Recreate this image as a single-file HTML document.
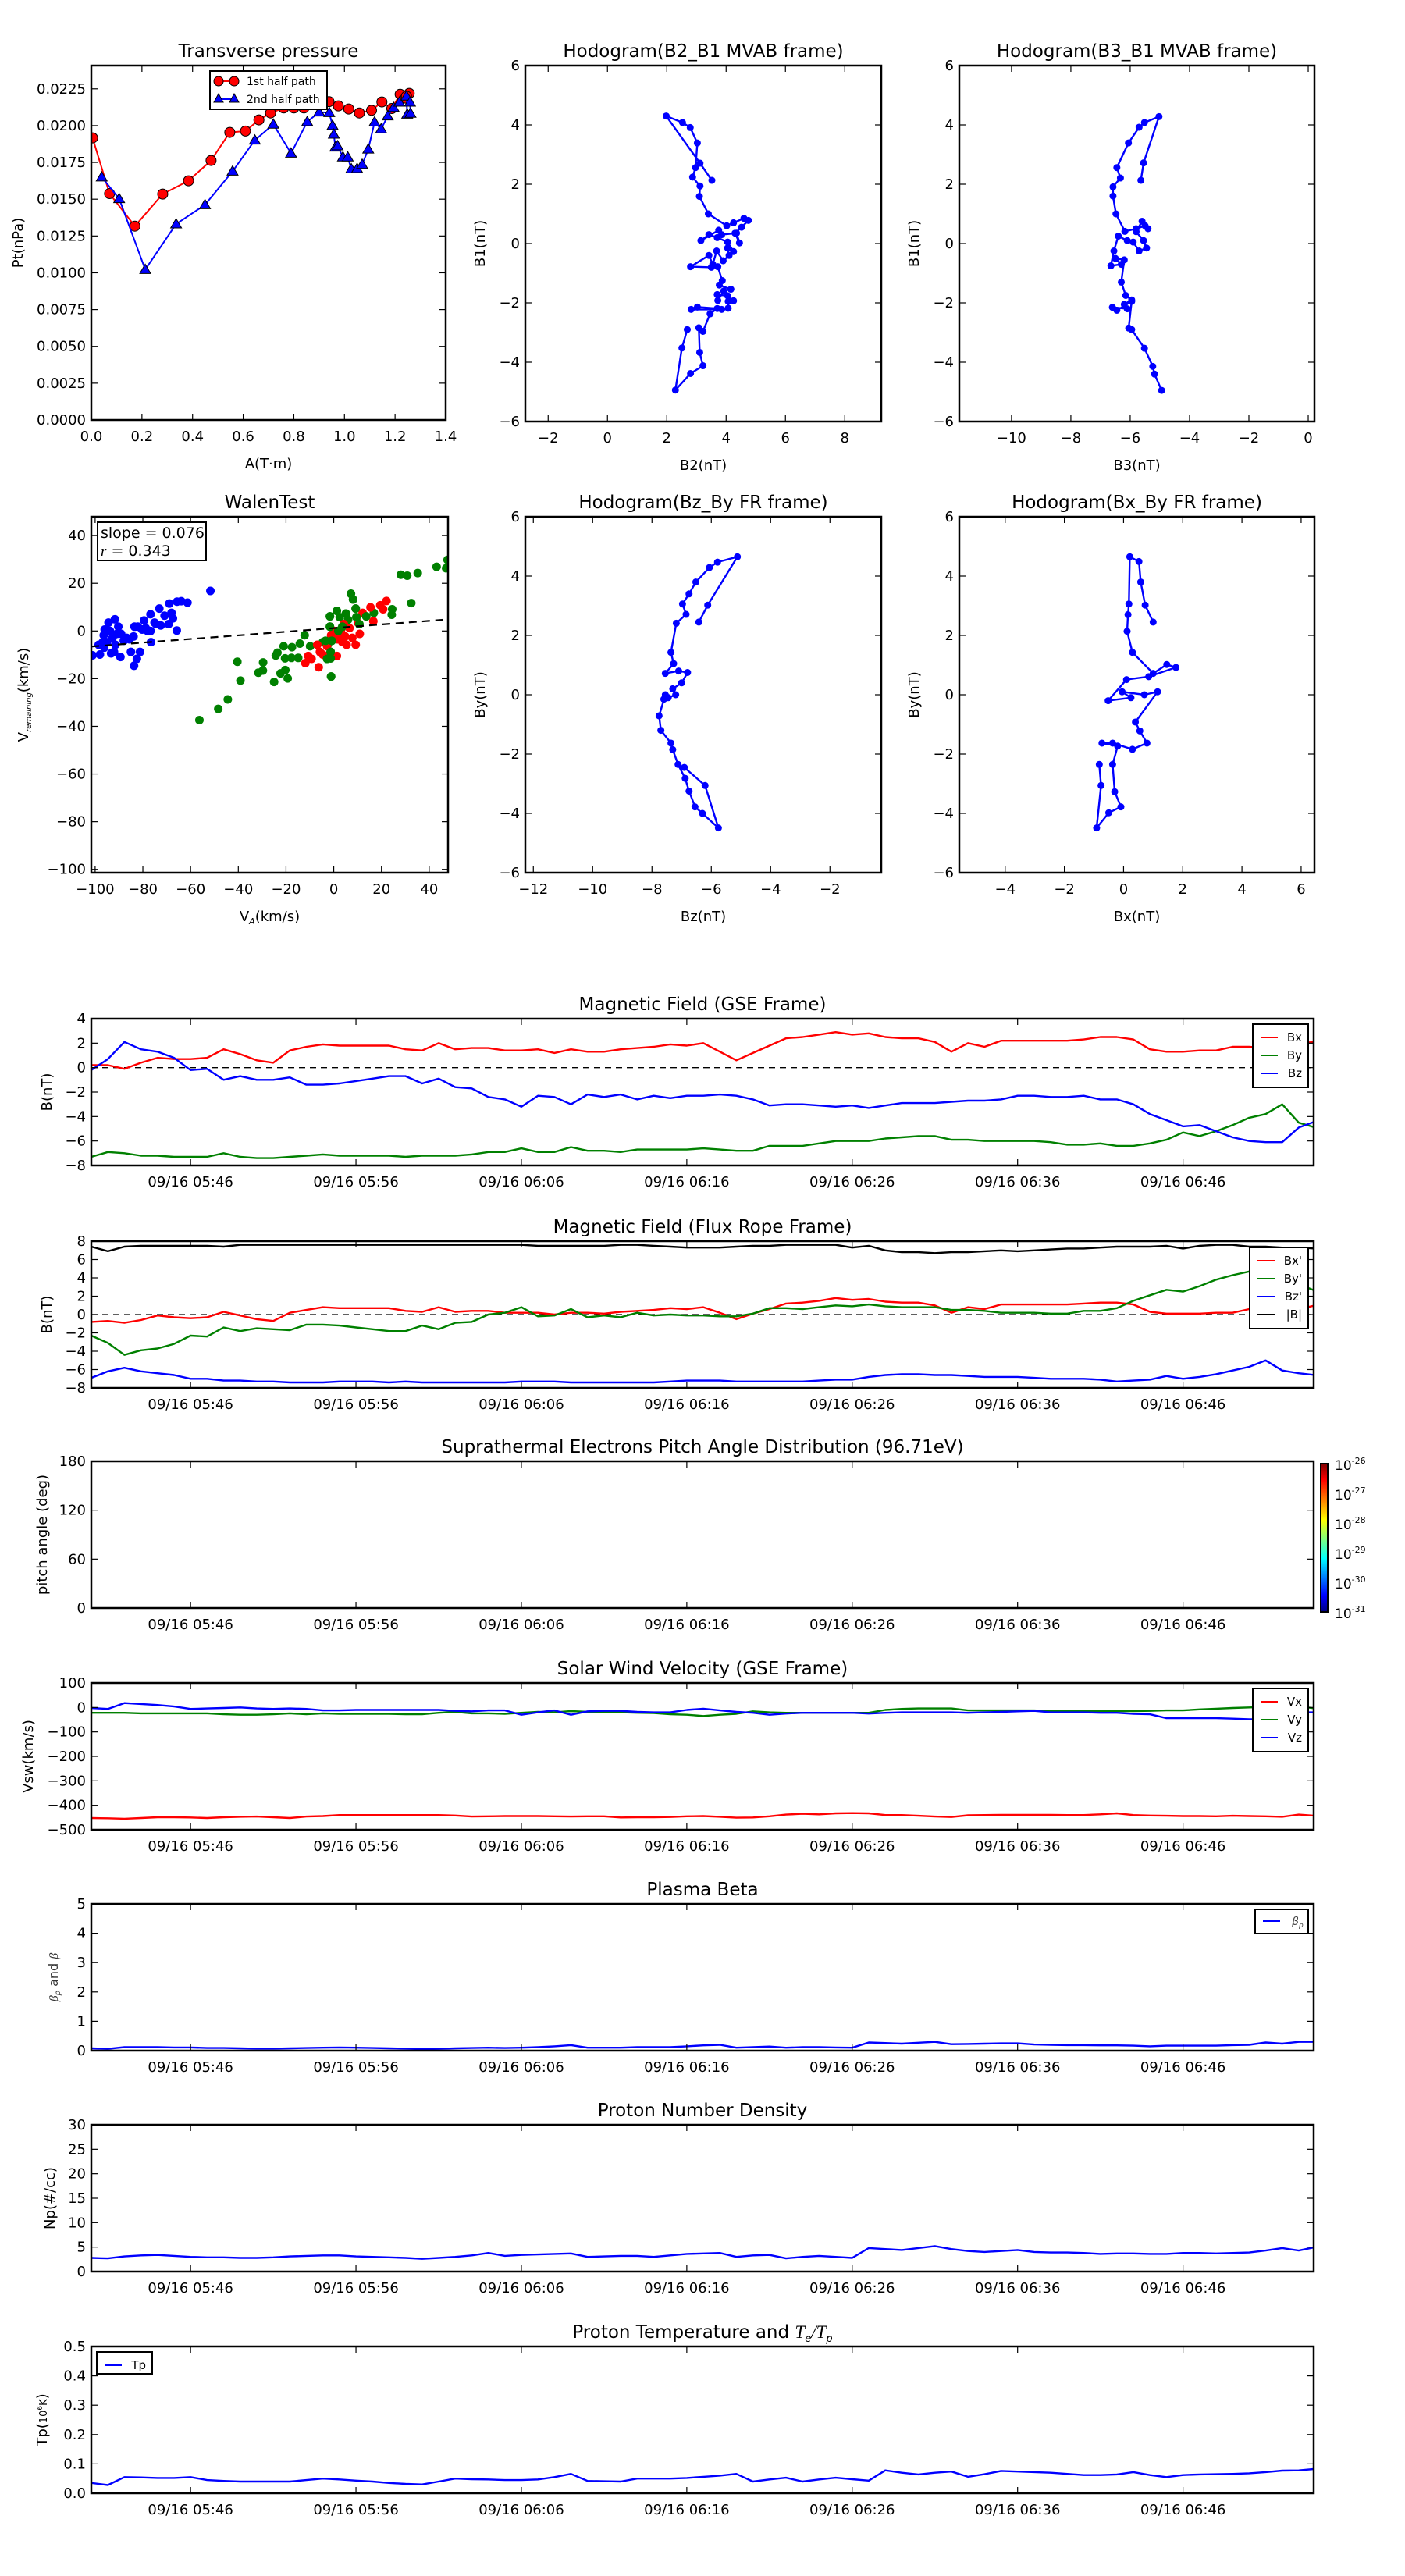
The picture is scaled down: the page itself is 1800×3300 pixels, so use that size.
<!DOCTYPE html>
<html><head><meta charset="utf-8"><style>
html,body{margin:0;padding:0;background:#fff;}
svg{display:block;font-family:"DejaVu Sans","Liberation Sans",sans-serif;}
</style></head><body>
<svg id="fig" xmlns="http://www.w3.org/2000/svg" width="1800" height="3300" viewBox="0 0 1800 3300">
<defs><linearGradient id="jet" x1="0" y1="1" x2="0" y2="0">
<stop offset="0" stop-color="#00007f"/><stop offset="0.11" stop-color="#0000ff"/><stop offset="0.36" stop-color="#00ffff"/><stop offset="0.62" stop-color="#ffff00"/><stop offset="0.89" stop-color="#ff0000"/><stop offset="1" stop-color="#7f0000"/></linearGradient></defs>
</svg>
<script>
// ---------- data ----------
const ptA1=[0.005,0.072,0.172,0.282,0.384,0.473,0.547,0.609,0.662,0.708,0.76,0.80,0.84,0.90,0.939,0.976,1.017,1.059,1.107,1.148,1.187,1.220,1.241,1.256,1.245];
const ptP1=[0.01917,0.01538,0.01317,0.01535,0.01625,0.01763,0.01954,0.01963,0.02039,0.02086,0.0212,0.0212,0.0212,0.0215,0.02163,0.02134,0.02113,0.02086,0.02104,0.02161,0.02116,0.02213,0.02187,0.02219,0.0220];
const ptA2=[0.041,0.110,0.213,0.335,0.449,0.558,0.646,0.719,0.789,0.853,0.900,0.940,0.953,0.958,0.964,0.973,0.994,1.013,1.027,1.050,1.070,1.094,1.119,1.145,1.171,1.194,1.217,1.245,1.248,1.261,1.259];
const ptP2=[0.01650,0.01503,0.01022,0.01331,0.01462,0.01690,0.01901,0.02009,0.01812,0.02026,0.02092,0.02088,0.02000,0.01941,0.01853,0.01862,0.01786,0.01786,0.01706,0.01708,0.01736,0.01840,0.02024,0.01977,0.02065,0.02123,0.02159,0.0220,0.02077,0.02083,0.02159];

const h1B2=[2.69,2.51,2.29,2.80,3.22,3.11,3.08,3.22,3.46,3.70,3.03,2.82,3.85,4.07,4.07,4.25,4.05,3.70,3.72,3.92,4.16,3.77,3.87,3.72,3.50,2.80,3.42,3.55,3.68,3.90,4.10,4.05,4.25,4.05,3.70,3.42,3.15,3.75,3.85,4.35,4.45,4.30,4.52,4.75,4.60,4.25,4.02,3.40,3.10,3.12,2.87,2.97,3.03,2.79,2.53,1.98,3.12,3.52];
const h1B1=[-2.90,-3.52,-4.94,-4.38,-4.12,-3.67,-2.84,-2.96,-2.37,-2.19,-2.14,-2.22,-2.22,-2.18,-1.95,-1.93,-1.76,-1.72,-1.92,-1.60,-1.54,-1.40,-1.25,-0.78,-0.80,-0.78,-0.40,-0.70,-0.25,-0.58,-0.40,-0.15,-0.27,0.05,0.20,0.30,0.10,0.45,0.30,0.35,0.02,0.35,0.55,0.78,0.85,0.70,0.60,1.00,1.59,1.94,2.24,2.56,3.39,3.91,4.08,4.30,2.71,2.13];
const h2B3=[-5.64,-5.55,-5.03,-5.52,-5.70,-6.06,-6.45,-6.33,-6.58,-6.58,-6.48,-6.18,-5.80,-5.50,-5.40,-5.60,-5.80,-5.55,-5.45,-5.70,-5.90,-6.10,-6.40,-6.55,-6.65,-6.30,-6.50,-6.20,-6.30,-6.15,-5.95,-6.20,-6.10,-6.60,-6.45,-5.95,-6.05,-5.95,-5.52,-5.24,-5.18,-4.94];
const h2B1=[2.13,2.72,4.28,4.08,3.92,3.39,2.56,2.21,1.91,1.60,1.00,0.41,0.50,0.60,0.50,0.75,0.40,0.10,-0.15,-0.25,0.05,0.10,0.25,-0.25,-0.75,-0.70,-0.50,-0.55,-1.30,-1.75,-1.90,-2.05,-2.20,-2.15,-2.25,-1.95,-2.85,-2.90,-3.53,-4.14,-4.40,-4.95];
const h3Bz=[-6.42,-6.12,-5.12,-5.79,-6.06,-6.52,-6.75,-6.97,-6.85,-7.18,-7.36,-7.27,-7.55,-7.10,-6.80,-7.00,-7.30,-7.20,-7.45,-7.60,-7.55,-7.76,-7.70,-7.36,-7.30,-7.12,-6.88,-6.75,-6.55,-6.30,-5.76,-6.21,-6.91];
const h3By=[2.45,3.02,4.65,4.47,4.29,3.80,3.40,3.06,2.71,2.41,1.43,1.05,0.72,0.80,0.75,0.40,0.20,0.00,-0.10,-0.15,0.00,-0.71,-1.20,-1.63,-1.85,-2.35,-2.82,-3.25,-3.78,-4.00,-4.49,-3.06,-2.45];
const h4Bx=[1.0,0.73,0.58,0.52,0.21,0.18,0.15,0.12,0.30,1.0,1.46,1.77,0.85,0.10,-0.52,0.25,-0.05,0.70,1.15,0.40,0.55,0.79,0.30,-0.37,-0.73,-0.20,-0.37,-0.30,-0.09,-0.50,-0.91,-0.76,-0.82];
const h4By=[2.45,3.02,3.80,4.49,4.65,3.06,2.70,2.14,1.43,0.72,1.02,0.92,0.61,0.51,-0.20,-0.10,0.10,0.00,0.10,-0.92,-1.22,-1.63,-1.84,-1.63,-1.63,-1.73,-2.35,-3.27,-3.78,-3.98,-4.49,-3.06,-2.35];

const wBlueX=[-101.1,-98.0,-96.4,-96.0,-94.4,-91.7,-90.3,-92.7,-91.5,-93.3,-89.4,-89.1,-88.0,-86.8,-85.0,-83.7,-82.5,-81.2,-83.5,-82.1,-80.3,-78.8,-79.5,-76.8,-76.8,-76.6,-75.1,-73.1,-72.5,-70.9,-69.2,-68.9,-68.0,-67.4,-65.8,-65.7,-63.9,-61.3,-51.7,-96.2,-95.0,-96.8,-98.5,-90.9,-85.6,-83.9,-78.0,-74.5,-93.8,-92.1];
const wBlueY=[-10.2,-9.9,-1.8,0.6,3.5,4.9,1.8,-2.9,-5.8,-9.4,-10.9,-1.2,-4.1,-2.9,-8.8,-14.6,-11.7,-8.8,1.8,1.8,0.6,1.2,4.4,0,7.0,-4.7,3.5,9.4,2.3,6.4,2.9,11.5,7.6,5.3,0.2,12.3,12.5,11.9,16.8,-7.0,-4.7,-4.7,-5.8,-1.2,-3.5,-2.3,0,2.9,0,-8.8];
const wRedX=[-11.9,-10.7,-9.3,-6.9,-6.3,-5.8,-4.6,-2.8,-1.1,0.1,1.3,1.5,3.1,3.6,4.8,5.4,6.6,7.8,9.2,10.1,10.9,12.1,15.4,16.6,19.5,20.7,22.1,-0.5,2.5,4.2];
const wRedY=[-13.5,-10.5,-11.7,-5.8,-15.2,-8.8,-9.9,-6.4,-1.8,0,-10.5,-3.5,0.6,-4.7,-2.3,-5.8,1.2,-2.9,-5.8,3.5,-1.2,7.6,9.9,4.1,10.8,9.1,12.6,-3.5,-1.2,2.9];
const wGreenX=[-56.3,-48.4,-44.4,-40.4,-39.1,-31.6,-29.6,-29.7,-25.0,-24.3,-23.6,-22.3,-21.0,-20.4,-20.3,-19.3,-17.7,-17.5,-14.9,-14.2,-12.2,-9.9,-3.4,-2.8,-1.6,-1.6,-1.1,-1.3,-1.3,-0.8,1.3,1.9,3.6,5.1,7.2,8.1,9.2,9.5,10.7,13.6,16.8,24.5,24.3,28.1,30.8,32.5,35.2,43.1,47.1,47.7,-4.6,-2.5,2.5,6.0];
const wGreenY=[-37.4,-32.7,-28.7,-12.9,-20.8,-17.5,-13.2,-16.6,-21.4,-10.3,-9.1,-17.8,-6.4,-11.5,-16.4,-19.9,-11.3,-6.8,-11.3,-5.3,-1.8,-6.4,-4.1,-11.7,1.8,6.1,-19.1,-11.5,-8.8,-4.1,8.4,0,1.8,7.3,15.6,13.2,9.4,5.8,2.9,6.1,7.6,9.1,6.8,23.6,23.2,11.7,24.3,26.9,26.3,29.8,-4.7,-5.8,5.8,4.7];
const walenSlope=0.076, walenIntercept=1.2;

// time series: one value per minute starting 05:40
const tickLabels=["09/16 05:46","09/16 05:56","09/16 06:06","09/16 06:16","09/16 06:26","09/16 06:36","09/16 06:46"];
const tickMinutes=[6,16,26,36,46,56,66];
const gseBx=[0.2,0.2,-0.1,0.4,0.8,0.7,0.7,0.8,1.5,1.1,0.6,0.4,1.4,1.7,1.9,1.8,1.8,1.8,1.8,1.5,1.4,2.0,1.5,1.6,1.6,1.4,1.4,1.5,1.2,1.5,1.3,1.3,1.5,1.6,1.7,1.9,1.8,2.0,1.3,0.6,1.2,1.8,2.4,2.5,2.7,2.9,2.7,2.8,2.5,2.4,2.4,2.1,1.3,2.0,1.7,2.2,2.2,2.2,2.2,2.2,2.3,2.5,2.5,2.3,1.5,1.3,1.3,1.4,1.4,1.7,1.7,1.6,1.8,2.0,2.1];
const gseBy=[-7.3,-6.9,-7.0,-7.2,-7.2,-7.3,-7.3,-7.3,-7.0,-7.3,-7.4,-7.4,-7.3,-7.2,-7.1,-7.2,-7.2,-7.2,-7.2,-7.3,-7.2,-7.2,-7.2,-7.1,-6.9,-6.9,-6.6,-6.9,-6.9,-6.5,-6.8,-6.8,-6.9,-6.7,-6.7,-6.7,-6.7,-6.6,-6.7,-6.8,-6.8,-6.4,-6.4,-6.4,-6.2,-6.0,-6.0,-6.0,-5.8,-5.7,-5.6,-5.6,-5.9,-5.9,-6.0,-6.0,-6.0,-6.0,-6.1,-6.3,-6.3,-6.2,-6.4,-6.4,-6.2,-5.9,-5.3,-5.6,-5.2,-4.7,-4.1,-3.8,-3.0,-4.5,-4.9];
const gseBz=[-0.2,0.7,2.1,1.5,1.3,0.8,-0.2,-0.1,-1.0,-0.7,-1.0,-1.0,-0.8,-1.4,-1.4,-1.3,-1.1,-0.9,-0.7,-0.7,-1.3,-0.9,-1.6,-1.7,-2.4,-2.6,-3.2,-2.3,-2.4,-3.0,-2.2,-2.4,-2.2,-2.6,-2.3,-2.5,-2.3,-2.3,-2.2,-2.3,-2.6,-3.1,-3.0,-3.0,-3.1,-3.2,-3.1,-3.3,-3.1,-2.9,-2.9,-2.9,-2.8,-2.7,-2.7,-2.6,-2.3,-2.3,-2.4,-2.4,-2.3,-2.6,-2.6,-3.0,-3.8,-4.3,-4.8,-4.7,-5.2,-5.7,-6.0,-6.1,-6.1,-4.9,-4.4];
const frBx=[-0.8,-0.7,-0.9,-0.6,-0.1,-0.3,-0.4,-0.3,0.3,-0.1,-0.5,-0.7,0.2,0.5,0.8,0.7,0.7,0.7,0.7,0.4,0.3,0.8,0.3,0.4,0.4,0.2,0.2,0.2,0.0,0.2,0.2,0.1,0.3,0.4,0.5,0.7,0.6,0.8,0.2,-0.5,0.1,0.6,1.2,1.3,1.5,1.8,1.6,1.7,1.4,1.3,1.3,1.0,0.2,0.8,0.6,1.1,1.1,1.1,1.1,1.1,1.2,1.3,1.3,1.1,0.3,0.1,0.1,0.1,0.2,0.2,0.6,0.6,0.6,0.6,1.0];
const frBy=[-2.3,-3.1,-4.4,-3.9,-3.7,-3.2,-2.3,-2.4,-1.4,-1.8,-1.5,-1.6,-1.7,-1.1,-1.1,-1.2,-1.4,-1.6,-1.8,-1.8,-1.2,-1.6,-0.9,-0.8,0.0,0.2,0.8,-0.2,-0.1,0.6,-0.3,-0.1,-0.3,0.2,-0.1,0.0,-0.1,-0.1,-0.2,-0.2,0.1,0.7,0.7,0.6,0.8,1.0,0.9,1.1,0.9,0.8,0.8,0.8,0.5,0.5,0.4,0.2,0.2,0.2,0.1,0.1,0.4,0.4,0.7,1.5,2.1,2.7,2.5,3.1,3.8,4.3,4.7,4.5,4.1,3.3,2.6];
const frBz=[-6.9,-6.2,-5.8,-6.2,-6.4,-6.6,-7.0,-7.0,-7.2,-7.2,-7.3,-7.3,-7.4,-7.4,-7.4,-7.3,-7.3,-7.3,-7.4,-7.3,-7.4,-7.4,-7.4,-7.4,-7.4,-7.4,-7.3,-7.3,-7.3,-7.4,-7.4,-7.4,-7.4,-7.4,-7.4,-7.3,-7.2,-7.2,-7.2,-7.3,-7.3,-7.3,-7.3,-7.3,-7.2,-7.1,-7.1,-6.8,-6.6,-6.5,-6.5,-6.6,-6.6,-6.7,-6.8,-6.8,-6.8,-6.9,-7.0,-7.0,-7.0,-7.1,-7.3,-7.2,-7.1,-6.7,-7.0,-6.8,-6.5,-6.1,-5.7,-5.0,-6.1,-6.4,-6.6];
const frBt=[7.4,6.9,7.4,7.5,7.5,7.5,7.5,7.5,7.4,7.6,7.6,7.6,7.6,7.6,7.6,7.6,7.6,7.6,7.6,7.6,7.6,7.6,7.6,7.6,7.6,7.6,7.6,7.5,7.5,7.5,7.5,7.5,7.6,7.6,7.5,7.4,7.3,7.3,7.3,7.4,7.5,7.5,7.6,7.6,7.6,7.6,7.3,7.5,7.0,6.8,6.8,6.7,6.8,6.8,6.9,7.0,6.9,7.0,7.1,7.2,7.2,7.3,7.4,7.4,7.4,7.5,7.2,7.5,7.6,7.6,7.4,7.4,7.3,7.3,7.2];
const swVx=[-452,-453,-455,-452,-449,-449,-450,-452,-449,-447,-446,-449,-452,-446,-444,-440,-440,-440,-440,-440,-440,-440,-442,-446,-445,-444,-444,-444,-445,-446,-445,-445,-450,-449,-449,-448,-445,-444,-447,-451,-450,-445,-438,-435,-437,-433,-432,-433,-440,-440,-443,-446,-448,-441,-440,-439,-439,-439,-439,-440,-440,-437,-433,-440,-442,-443,-444,-444,-445,-443,-444,-445,-447,-438,-443];
const swVy=[-22,-22,-22,-24,-24,-24,-24,-24,-28,-30,-30,-28,-24,-28,-24,-26,-26,-26,-26,-28,-28,-22,-18,-24,-24,-26,-22,-18,-20,-15,-18,-20,-20,-22,-23,-28,-30,-35,-30,-26,-16,-20,-22,-22,-22,-22,-22,-22,-10,-6,-4,-4,-4,-12,-12,-12,-12,-12,-15,-15,-15,-15,-15,-15,-14,-12,-12,-8,-5,-2,0,2,5,5,-4];
const swVz=[-2,-6,18,14,10,4,-6,-4,-2,0,-4,-6,-4,-6,-12,-12,-10,-10,-10,-10,-10,-10,-14,-16,-12,-12,-30,-20,-12,-30,-16,-14,-14,-18,-20,-20,-10,-5,-12,-18,-22,-30,-25,-22,-22,-22,-22,-25,-22,-20,-20,-20,-20,-22,-20,-18,-16,-14,-20,-20,-20,-22,-22,-26,-28,-44,-44,-44,-44,-46,-48,-48,-40,-20,-20];
const betaP=[0.08,0.06,0.12,0.12,0.12,0.11,0.11,0.09,0.09,0.08,0.07,0.07,0.08,0.09,0.1,0.11,0.1,0.09,0.08,0.07,0.05,0.06,0.08,0.09,0.1,0.09,0.1,0.12,0.15,0.19,0.1,0.1,0.1,0.12,0.12,0.12,0.15,0.18,0.2,0.1,0.12,0.14,0.1,0.12,0.12,0.11,0.1,0.28,0.26,0.24,0.27,0.3,0.22,0.23,0.24,0.25,0.25,0.21,0.2,0.19,0.19,0.18,0.18,0.17,0.15,0.17,0.17,0.17,0.17,0.19,0.2,0.28,0.24,0.3,0.3];
const densNp=[2.8,2.7,3.1,3.3,3.4,3.2,3.0,2.9,2.9,2.8,2.8,2.9,3.1,3.2,3.3,3.3,3.1,3.0,2.9,2.8,2.6,2.8,3.0,3.3,3.8,3.2,3.4,3.5,3.6,3.7,3.0,3.1,3.2,3.2,3.0,3.3,3.6,3.7,3.8,3.0,3.3,3.4,2.7,3.0,3.2,3.0,2.8,4.8,4.6,4.4,4.8,5.2,4.6,4.2,4.0,4.2,4.4,4.0,3.9,3.9,3.8,3.6,3.7,3.7,3.6,3.6,3.8,3.8,3.7,3.8,3.9,4.3,4.8,4.3,5.0];
const tempTp=[0.035,0.028,0.055,0.054,0.052,0.052,0.055,0.045,0.042,0.04,0.04,0.04,0.04,0.045,0.05,0.047,0.043,0.04,0.035,0.032,0.03,0.04,0.05,0.048,0.047,0.045,0.045,0.047,0.055,0.066,0.042,0.041,0.04,0.05,0.05,0.05,0.052,0.056,0.06,0.066,0.04,0.047,0.053,0.04,0.047,0.053,0.048,0.043,0.078,0.07,0.064,0.07,0.074,0.056,0.065,0.076,0.074,0.072,0.07,0.066,0.062,0.062,0.064,0.072,0.062,0.055,0.062,0.064,0.065,0.066,0.068,0.072,0.077,0.078,0.083];
const cbarLabels=["-26","-27","-28","-29","-30","-31"];

// ---------- helpers ----------
const NS="http://www.w3.org/2000/svg";
const fig=document.getElementById('fig');
function el(tag,attrs,parent,text){const e=document.createElementNS(NS,tag);for(const k in attrs)e.setAttribute(k,attrs[k]);if(text!==undefined)e.textContent=text;(parent||fig).appendChild(e);return e;}
function fmt(v,d){const s=Math.abs(v).toFixed(d);return (v<-1e-12?"\u2212":"")+s;}
function makeAxes(name,x0,y0,w,h,xlim,ylim){
  const g=el('g',{});
  
  
  const clipId='clip-'+name;
  const cp=el('clipPath',{id:clipId},g);el('rect',{x:x0,y:y0,width:w,height:h},cp);
  const ax={g,x0,y0,w,h,
    sx:v=>x0+(v-xlim[0])/(xlim[1]-xlim[0])*w,
    sy:v=>y0+h-(v-ylim[0])/(ylim[1]-ylim[0])*h,
    plot:el('g',{'clip-path':'url(#'+clipId+')'},g)};
  return ax;
}
function frame(ax){el('rect',{x:ax.x0,y:ax.y0,width:ax.w,height:ax.h,fill:'none',stroke:'#000','stroke-width':2.5},ax.g);}
function xticks(ax,vals,labels,name){
  vals.forEach((v,i)=>{const x=ax.sx(v);
    el('line',{x1:x,y1:ax.y0+ax.h,x2:x,y2:ax.y0+ax.h-8,stroke:'#000','stroke-width':1.2},ax.g);
    el('line',{x1:x,y1:ax.y0,x2:x,y2:ax.y0+8,stroke:'#000','stroke-width':1.2},ax.g);
    const t=el('text',{x:x,y:ax.y0+ax.h+27,'text-anchor':'middle','font-size':18},ax.g,labels[i]);
    
    });
}
function yticks(ax,vals,labels,name){
  vals.forEach((v,i)=>{const y=ax.sy(v);
    el('line',{x1:ax.x0,y1:y,x2:ax.x0+8,y2:y,stroke:'#000','stroke-width':1.2},ax.g);
    el('line',{x1:ax.x0+ax.w,y1:y,x2:ax.x0+ax.w-8,y2:y,stroke:'#000','stroke-width':1.2},ax.g);
    const t=el('text',{x:ax.x0-7,y:y+6,'text-anchor':'end','font-size':18},ax.g,labels[i]);
    
    });
}
function title(ax,txt,name){const t=el('text',{x:ax.x0+ax.w/2,y:ax.y0-11,'text-anchor':'middle','font-size':23},ax.g,txt);
  return t;}
function xlabel(ax,txt,name){const t=el('text',{x:ax.x0+ax.w/2,y:ax.y0+ax.h+62,'text-anchor':'middle','font-size':18},ax.g,txt);
  return t;}
function ylabel(ax,txt,name,x){const cy=ax.y0+ax.h/2;const t=el('text',{x:x,y:cy,'text-anchor':'middle','font-size':18,transform:'rotate(-90 '+x+' '+cy+')'},ax.g,txt);
  return t;}
function range(a,b,s){const r=[];for(let v=a;v<=b+s*1e-6;v+=s)r.push(Math.round(v/s)*s);return r;}
function polyline(ax,xs,ys,color,name,width){
  const pts=xs.map((x,i)=>ax.sx(x).toFixed(1)+','+ax.sy(ys[i]).toFixed(1)).join(' ');
  const p=el('polyline',{points:pts,fill:'none',stroke:color,'stroke-width':width||2.4,'stroke-linejoin':'round'},ax.plot);
  return p;}
function dots(ax,xs,ys,color,r,name){
  xs.forEach((x,i)=>{const c=el('circle',{cx:ax.sx(x),cy:ax.sy(ys[i]),r:r,fill:color},ax.plot);
    });}

// ---------- row 1 / row 2 panels ----------
(function(){
  const ax=makeAxes('transverse-pressure-panel',117,84,454,454,[0,1.4],[0,0.02408]);
  polyline(ax,ptA1,ptP1,'#ff0000','first-half-line',2);
  ptA1.forEach((a,i)=>{const c=el('circle',{cx:ax.sx(a),cy:ax.sy(ptP1[i]),r:6.5,fill:'#ff0000',stroke:'#000','stroke-width':1},ax.plot);
    });
  polyline(ax,ptA2,ptP2,'#0000ff','second-half-line',2);
  ptA2.forEach((a,i)=>{const x=ax.sx(a),y=ax.sy(ptP2[i]);
    const p=el('polygon',{points:`${x},${y-7} ${x-7},${y+5} ${x+7},${y+5}`,fill:'#0000ff',stroke:'#000','stroke-width':1},ax.plot);
    });
  frame(ax);
  xticks(ax,range(0,1.4,0.2),range(0,1.4,0.2).map(v=>v.toFixed(1)),'x-tick-label');
  yticks(ax,range(0,0.0225,0.0025),range(0,0.0225,0.0025).map(v=>v.toFixed(4)),'y-tick-label');
  title(ax,'Transverse pressure','transverse-pressure-title');
  xlabel(ax,'A(T\u00b7m)','x-axis-title');
  ylabel(ax,'Pt(nPa)','y-axis-title',29);
  const lg=el('g',{},ax.g);
  el('rect',{x:269,y:91,width:150,height:49,fill:'#fff',stroke:'#000','stroke-width':2},lg);
  el('line',{x1:280,y1:104,x2:300,y2:104,stroke:'#f00','stroke-width':2},lg);
  el('circle',{cx:280,cy:104,r:6,fill:'#f00',stroke:'#000'},lg);el('circle',{cx:300,cy:104,r:6,fill:'#f00',stroke:'#000'},lg);
  el('text',{x:316,y:109,'font-size':14},lg,'1st half path');
  el('line',{x1:280,y1:127,x2:300,y2:127,stroke:'#00f','stroke-width':2},lg);
  el('polygon',{points:'280,120 274,131 286,131',fill:'#00f',stroke:'#000'},lg);el('polygon',{points:'300,120 294,131 306,131',fill:'#00f',stroke:'#000'},lg);
  el('text',{x:316,y:132,'font-size':14},lg,'2nd half path');
})();
function hodo(name,x0,y0,w,h,xlim,xt,xs,ys,tt,xl,yl){
  const ax=makeAxes(name,x0,y0,w,h,xlim,[-6,6]);
  polyline(ax,xs,ys,'#0000ff','hodogram-path',2.4);
  dots(ax,xs,ys,'#0000ff',4.5,'hodogram-point');
  frame(ax);
  xticks(ax,xt,xt.map(v=>fmt(v,0)),'x-tick-label');
  const yt=range(-6,6,2);yticks(ax,yt,yt.map(v=>fmt(v,0)),'y-tick-label');
  title(ax,tt,'hodogram-title');xlabel(ax,xl,'x-axis-title');ylabel(ax,yl,'y-axis-title',x0-52);
}
hodo('hodogram-b2-b1',673,84,456,456,[-2.77,9.23],range(-2,8,2),h1B2,h1B1,'Hodogram(B2_B1 MVAB frame)','B2(nT)','B1(nT)');
hodo('hodogram-b3-b1',1229,84,455,456,[-11.76,0.21],range(-10,0,2),h2B3,h2B1,'Hodogram(B3_B1 MVAB frame)','B3(nT)','B1(nT)');
hodo('hodogram-bz-by',673,662,456,456,[-12.27,-0.27],range(-12,-2,2),h3Bz,h3By,'Hodogram(Bz_By FR frame)','Bz(nT)','By(nT)');
hodo('hodogram-bx-by',1229,662,455,456,[-5.55,6.45],range(-4,6,2),h4Bx,h4By,'Hodogram(Bx_By FR frame)','Bx(nT)','By(nT)');
(function(){
  const ax=makeAxes('walen-test-panel',117,662,457,456,[-101.6,47.9],[-101.4,47.9]);
  dots(ax,wBlueX,wBlueY,'#0000ff',5.5,'walen-point-blue');
  dots(ax,wGreenX,wGreenY,'#008000',5.5,'walen-point-green');
  dots(ax,wRedX,wRedY,'#ff0000',5.5,'walen-point-red');
  dots(ax,wGreenX.slice(22,40),wGreenY.slice(22,40),'#008000',5.5,'walen-point-green');
  const l=el('line',{x1:ax.sx(-101.6),y1:ax.sy(walenSlope*-101.6+walenIntercept),x2:ax.sx(47.9),y2:ax.sy(walenSlope*47.9+walenIntercept),stroke:'#000','stroke-width':2.2,'stroke-dasharray':'10,7'},ax.plot);
  
  frame(ax);
  const xt=range(-100,40,20);xticks(ax,xt,xt.map(v=>fmt(v,0)),'x-tick-label');
  yticks(ax,xt,xt.map(v=>fmt(v,0)),'y-tick-label');
  title(ax,'WalenTest','walen-title');
  const t=xlabel(ax,'','x-axis-title');el('tspan',{},t,'V');el('tspan',{'font-size':11,dy:4,'font-style':'italic'},t,'A');el('tspan',{dy:-4},t,'(km/s)');
  const yl=ylabel(ax,'','y-axis-title',36);el('tspan',{},yl,'V');el('tspan',{'font-size':10,dy:4,'font-style':'italic'},yl,'remaining');el('tspan',{dy:-4},yl,'(km/s)');
  const b=el('g',{},ax.g);
  el('rect',{x:125,y:669,width:139,height:49,fill:'#fff',stroke:'#000','stroke-width':2},b);
  el('text',{x:129,y:689,'font-size':19},b,'slope = 0.076');
  const r=el('text',{x:129,y:712,'font-size':19},b);el('tspan',{'font-style':'italic','font-family':'Liberation Serif, serif'},r,'r');el('tspan',{},r,' = 0.343');
})();

// ---------- time series ----------
const TS_X=117,TS_W=1566,TS_H=188;
function tsAxes(name,top,ylim,yt,ylab,ylabX,tt,ydec){
  const ax=makeAxes(name,TS_X,top,TS_W,TS_H,[0,73.9],ylim);
  ax.finish=function(){
    frame(ax);
    xticks(ax,tickMinutes,tickLabels,'time-tick-label');
    yticks(ax,yt,yt.map(v=>fmt(v,ydec||0)),'y-tick-label');
    ax.titleEl=title(ax,tt,'panel-title');
    if(ylab)ylabel(ax,ylab,'y-axis-title',ylabX);
  };
  return ax;
}
function minutes(arr){return arr.map((v,i)=>i);}
function legend(ax,x,y,w,entries){
  const g=el('g',{},ax.g);
  el('rect',{x:x,y:y,width:w,height:entries.length*23+12,fill:'#fff',stroke:'#000','stroke-width':2},g);
  entries.forEach((e,i)=>{const yy=y+17+i*23;
    el('line',{x1:x+10,y1:yy,x2:x+32,y2:yy,stroke:e[1],'stroke-width':2},g);
    el('text',{x:x+w-8,y:yy+5,'text-anchor':'end','font-size':15},g,e[0]);});
  return g;
}
function zeroLine(ax){el('line',{x1:ax.x0,y1:ax.sy(0),x2:ax.x0+ax.w,y2:ax.sy(0),stroke:'#000','stroke-width':1.3,'stroke-dasharray':'8,6'},ax.plot);}

let ax;
ax=tsAxes('magnetic-field-gse-panel',1305,[-8,4],range(-8,4,2),'B(nT)',66,'Magnetic Field (GSE Frame)');
zeroLine(ax);
polyline(ax,minutes(gseBx),gseBx,'#ff0000','bx-line');
polyline(ax,minutes(gseBy),gseBy,'#008000','by-line');
polyline(ax,minutes(gseBz),gseBz,'#0000ff','bz-line');
ax.finish();legend(ax,1605,1312,71,[['Bx','#f00'],['By','#008000'],['Bz','#00f']]);

ax=tsAxes('magnetic-field-fr-panel',1590,[-8,8],range(-8,8,2),'B(nT)',66,'Magnetic Field (Flux Rope Frame)');
zeroLine(ax);
polyline(ax,minutes(frBx),frBx,'#ff0000','bx-prime-line');
polyline(ax,minutes(frBy),frBy,'#008000','by-prime-line');
polyline(ax,minutes(frBz),frBz,'#0000ff','bz-prime-line');
polyline(ax,minutes(frBt),frBt,'#000000','b-magnitude-line');
ax.finish();legend(ax,1601,1598,75,[["Bx'",'#f00'],["By'",'#008000'],["Bz'",'#00f'],['|B|','#000']]);

ax=tsAxes('pitch-angle-panel',1872,[0,180],[0,60,120,180],'pitch angle (deg)',60,'Suprathermal Electrons Pitch Angle Distribution (96.71eV)');
ax.finish();
(function(){const g=el('g',{});
  el('rect',{x:1692,y:1875,width:9,height:190,fill:'url(#jet)',stroke:'#000','stroke-width':2},g);
  cbarLabels.forEach((s,i)=>{const y=1875+i*38;const t=el('text',{x:1710,y:y+8,'font-size':17},g,'10');
    el('tspan',{'font-size':11,dy:-8},t,s);
    });})();

ax=tsAxes('solar-wind-velocity-panel',2156,[-500,100],range(-500,100,100),'Vsw(km/s)',42,'Solar Wind Velocity (GSE Frame)');
polyline(ax,minutes(swVx),swVx,'#ff0000','vx-line');
polyline(ax,minutes(swVy),swVy,'#008000','vy-line');
polyline(ax,minutes(swVz),swVz,'#0000ff','vz-line');
ax.finish();legend(ax,1605,2163,71,[['Vx','#f00'],['Vy','#008000'],['Vz','#00f']]);

ax=tsAxes('plasma-beta-panel',2439,[0,5],range(0,5,1),null,0,'Plasma Beta');
polyline(ax,minutes(betaP),betaP,'#0000ff','beta-p-line');
ax.finish();
(function(){const yl=ylabel(ax,'','y-axis-title',74);yl.setAttribute('font-size',16);yl.setAttribute('fill','#333');
  el('tspan',{'font-style':'italic','font-family':'Liberation Serif, serif'},yl,'\u03b2');el('tspan',{'font-size':10,dy:3,'font-style':'italic'},yl,'p');el('tspan',{dy:-3},yl,' and ');el('tspan',{'font-style':'italic','font-family':'Liberation Serif, serif'},yl,'\u03b2');
  const g=el('g',{},ax.g);
  el('rect',{x:1608,y:2446,width:68,height:31,fill:'#fff',stroke:'#000','stroke-width':2},g);
  el('line',{x1:1618,y1:2461,x2:1640,y2:2461,stroke:'#00f','stroke-width':2},g);
  const t=el('text',{x:1655,y:2466,'font-size':14,'font-style':'italic',fill:'#444'},g,'\u03b2');el('tspan',{'font-size':9,dy:3},t,'p');})();

ax=tsAxes('proton-density-panel',2722,[0,30],range(0,30,5),'Np(#/cc)',70,'Proton Number Density');
polyline(ax,minutes(densNp),densNp,'#0000ff','density-line');
ax.finish();

ax=tsAxes('proton-temperature-panel',3006,[0,0.5],range(0,0.5,0.1),null,0,'',1);
polyline(ax,minutes(tempTp),tempTp,'#0000ff','tp-line');
ax.finish();
(function(){const t=ax.titleEl;t.textContent='Proton Temperature and ';
  el('tspan',{'font-style':'italic','font-family':'Liberation Serif, serif'},t,'T');el('tspan',{'font-size':13,dy:5,'font-style':'italic'},t,'e');
  el('tspan',{dy:-5,'font-style':'italic','font-family':'Liberation Serif, serif'},t,'/T');el('tspan',{'font-size':13,dy:5,'font-style':'italic'},t,'p');
  const yl=ylabel(ax,'','y-axis-title',60);el('tspan',{},yl,'Tp(');el('tspan',{'font-size':13},yl,'10');el('tspan',{'font-size':9,dy:-6},yl,'6');el('tspan',{'font-size':13,dy:6},yl,'K');el('tspan',{},yl,')');
  legend(ax,124,3013,71,[['Tp','#00f']]).querySelector('rect').setAttribute('height',28);})();
</script>
</body></html>
